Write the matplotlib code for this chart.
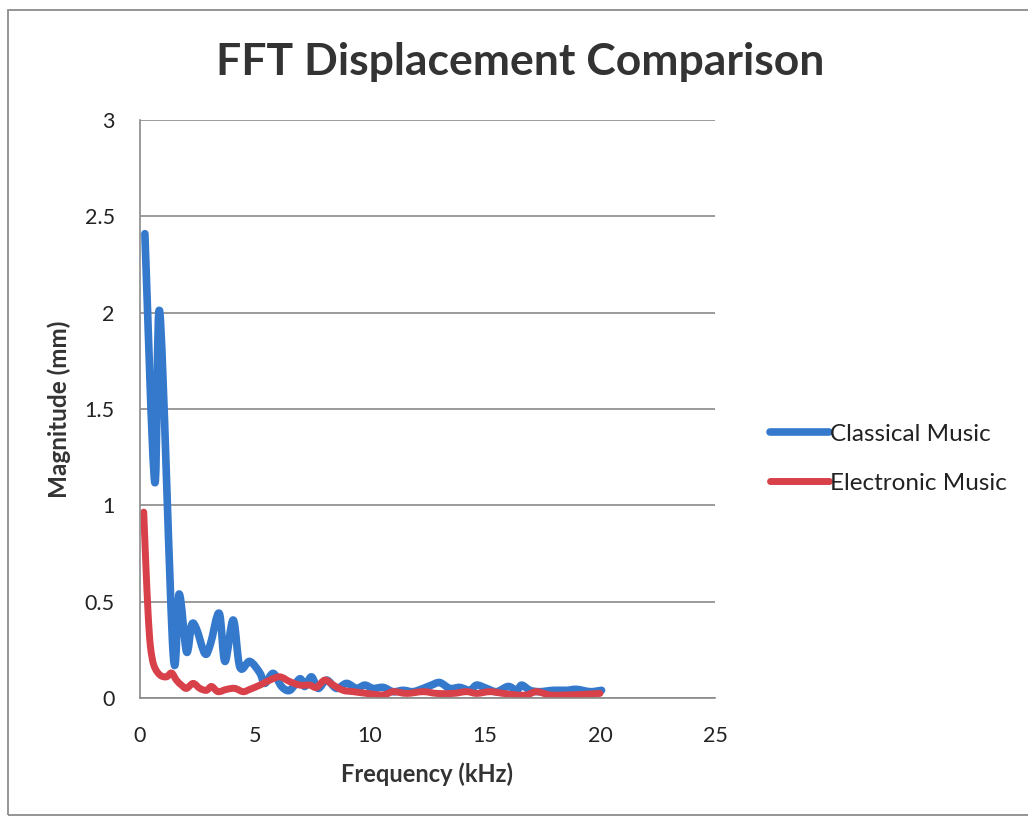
import numpy as np
import matplotlib.pyplot as plt
from matplotlib.patches import Rectangle, PathPatch
from matplotlib.path import Path
from matplotlib.lines import Line2D

plt.rcParams['font.family'] = ['Lato', 'DejaVu Sans']

# FFT magnitude of the displacement, frequency in kHz, magnitude in mm
classical_f = [0.22, 0.65, 0.87, 1.45, 1.71, 2.03, 2.25, 2.46, 2.83, 3.07, 3.45, 3.70,
               4.06, 4.35, 4.78, 5.22, 5.43, 5.80, 6.16, 6.52, 6.96, 7.17, 7.46, 7.75,
               8.12, 8.55, 8.99, 9.42, 9.78, 10.14, 10.58, 11.01, 11.45, 11.88, 12.32,
               12.68, 13.04, 13.48, 13.91, 14.35, 14.64, 15.07, 15.51, 16.01, 16.38,
               16.60, 16.96, 17.39, 17.97, 18.55, 18.99, 19.57, 20.07]
classical_m = [2.41, 1.12, 2.00, 0.23, 0.54, 0.24, 0.38, 0.36, 0.23, 0.28, 0.44, 0.19,
               0.405, 0.16, 0.19, 0.13, 0.076, 0.128, 0.06, 0.04, 0.10, 0.06, 0.11, 0.05,
               0.093, 0.05, 0.076, 0.05, 0.067, 0.05, 0.055, 0.033, 0.04, 0.033, 0.05,
               0.067, 0.08, 0.05, 0.055, 0.04, 0.067, 0.05, 0.033, 0.06, 0.04,
               0.067, 0.04, 0.033, 0.04, 0.04, 0.045, 0.033, 0.04]

electronic_f = [0.17, 0.26, 0.36, 0.46, 0.61, 0.87, 1.16, 1.38, 1.59, 1.81, 2.03, 2.32,
                2.61, 2.90, 3.12, 3.40, 3.77, 4.13, 4.49, 4.78, 5.22, 5.65, 6.09, 6.52,
                6.96, 7.39, 7.68, 8.04, 8.41, 8.84, 9.28, 9.86, 10.58, 11.01, 11.60,
                12.32, 12.90, 13.62, 14.20, 14.64, 15.22, 15.80, 16.38, 16.81, 17.25,
                17.83, 18.55, 19.28, 20.00]
electronic_m = [0.965, 0.70, 0.44, 0.27, 0.17, 0.12, 0.11, 0.13, 0.093, 0.067, 0.05, 0.076,
                0.05, 0.04, 0.06, 0.033, 0.045, 0.05, 0.033, 0.045, 0.067, 0.093, 0.11, 0.085,
                0.067, 0.067, 0.055, 0.093, 0.067, 0.04, 0.033, 0.024, 0.016, 0.033, 0.024,
                0.033, 0.024, 0.024, 0.033, 0.024, 0.033, 0.024, 0.016, 0.016, 0.033,
                0.016, 0.016, 0.019, 0.024]

series = ['Classical Music', 'Electronic Music']
colors = ['#3579CC', '#D8404A']
widths = [5.5, 5]


def smoothed_path(x, y, t=1/6):
    # smoothed line through the points, cubic bezier segments (like a spreadsheet "smoothed line")
    p = np.column_stack([x, y])
    n = len(p)
    verts = [p[0]]
    codes = [Path.MOVETO]
    for i in range(n - 1):
        p0 = p[i - 1] if i > 0 else p[i]
        p3 = p[i + 2] if i + 2 < n else p[i + 1]
        c1 = p[i] + (p[i + 1] - p0) * t
        c2 = p[i + 1] - (p3 - p[i]) * t
        verts += [c1, c2, p[i + 1]]
        codes += [Path.CURVE4] * 3
    return Path(verts, codes)


fig = plt.figure(figsize=(10.28, 8.19), dpi=100)
ax = fig.add_axes([0.136, 0.1477, 0.5595, 0.7058])

# chart area border
fig.patches.append(Rectangle((0.0078, 0.005), 1.2, 0.983, transform=fig.transFigure,
                             fill=False, edgecolor='#8c8c8c', linewidth=1.3))

for (fx, my), c, w in zip([(classical_f, classical_m), (electronic_f, electronic_m)], colors, widths):
    ax.add_patch(PathPatch(smoothed_path(fx, my), fill=False, edgecolor=c, linewidth=w,
                           joinstyle='round', capstyle='round'))

ax.set_xlim(0, 25)
ax.set_ylim(0, 3)
ax.set_xticks([0, 5, 10, 15, 20, 25])
ax.set_yticks([0, 0.5, 1, 1.5, 2, 2.5, 3])
ax.set_yticklabels(['0', '0.5', '1', '1.5', '2', '2.5', '3'])
ax.grid(axis='y', color='#8a8a8a', linewidth=1.2)
ax.set_axisbelow(True)
for s in ['top', 'right']:
    ax.spines[s].set_visible(False)
for s in ['left', 'bottom']:
    ax.spines[s].set_color('#8a8a8a')
    ax.spines[s].set_linewidth(1.2)
ax.tick_params(axis='both', length=0, labelsize=15.5, colors='#222222')
ax.tick_params(axis='y', pad=18)
ax.tick_params(axis='x', pad=20)

ax.set_xlabel('Frequency (kHz)', fontsize=17, fontweight='bold', color='#333333', labelpad=12)
ax.set_ylabel('Magnitude (mm)', fontsize=17.5, fontweight='bold', color='#333333', labelpad=10)
fig.text(0.506, 0.924, 'FFT Displacement Comparison', ha='center', va='center',
         fontsize=32, fontweight='bold', color='#333333')

handles = [Line2D([], [], color=c, linewidth=w, solid_capstyle='round') for c, w in zip(colors, widths)]
fig.legend(handles, series, loc='center left', bbox_to_anchor=(0.728, 0.44), frameon=False,
           fontsize=17.5, handlelength=2.4, handletextpad=0.05, labelspacing=1.15,
           labelcolor='#222222')

fig.savefig('out.png', dpi=100)
